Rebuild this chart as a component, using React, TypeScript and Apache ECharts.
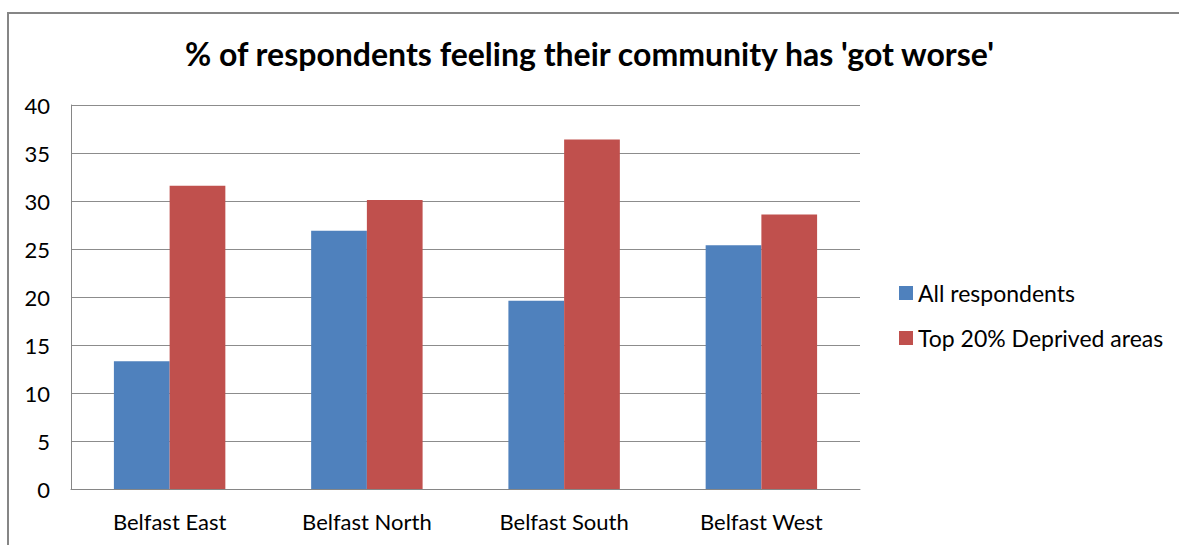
import React, { useEffect, useRef } from "react";
import * as echarts from "echarts";

const categories = ["Belfast East", "Belfast North", "Belfast South", "Belfast West"];
const allRespondents = [13.3, 26.9, 19.6, 25.4];
const deprivedAreas = [31.6, 30.1, 36.4, 28.6];
const seriesNames = ["All respondents", "Top 20% Deprived areas"];
const titleText = "% of respondents feeling their community has 'got worse'";

export default function App() {
  const ref = useRef<HTMLDivElement>(null);
  useEffect(() => {
    if (!ref.current) return;
    const chart = echarts.init(ref.current, null, { renderer: "svg" });
    const font = "Lato, 'Noto Sans', sans-serif";
    chart.setOption({
      animation: false,
      backgroundColor: "#ffffff",
      textStyle: { fontFamily: font },
      title: {
        text: titleText,
        left: "center",
        top: 32,
        textStyle: { fontFamily: font, fontSize: 32, fontWeight: "bold", color: "#000000" },
      },
      graphic: [
        {
          type: "rect",
          shape: { x: 8, y: 13, width: 1400, height: 800 },
          style: { fill: "none", stroke: "#868686", lineWidth: 2 },
          silent: true,
        },
      ],
      legend: {
        orient: "vertical",
        left: 899,
        top: 281,
        padding: 0,
        itemWidth: 14,
        itemHeight: 14,
        itemGap: 21,
        icon: "rect",
        textStyle: { fontFamily: font, fontSize: 23, color: "#000000", lineHeight: 24 },
        data: seriesNames,
      },
      grid: { left: 71, right: 319, top: 105, bottom: 56, containLabel: false },
      xAxis: {
        type: "category",
        data: categories,
        axisLine: { show: true, lineStyle: { color: "#868686", width: 1 } },
        axisTick: { show: false },
        axisLabel: { fontFamily: font, fontSize: 22, color: "#000000", margin: 21 },
      },
      yAxis: {
        type: "value",
        min: 0,
        max: 40,
        interval: 5,
        axisLine: { show: true, lineStyle: { color: "#868686", width: 1 } },
        axisTick: { show: false },
        splitLine: { show: true, lineStyle: { color: "#8c8c8c", width: 1 } },
        axisLabel: { fontFamily: font, fontSize: 22, color: "#000000", margin: 21 },
      },
      series: [
        {
          name: seriesNames[0],
          type: "bar",
          data: allRespondents,
          barGap: "0%",
          barCategoryGap: "43.5%",
          itemStyle: { color: "#4F81BD" },
        },
        {
          name: seriesNames[1],
          type: "bar",
          data: deprivedAreas,
          barGap: "0%",
          barCategoryGap: "43.5%",
          itemStyle: { color: "#C0504D" },
        },
      ],
    });
    return () => chart.dispose();
  }, []);
  return (
    <div
      ref={ref}
      style={{ position: "fixed", left: 0, top: 0, width: 1179, height: 545 }}
    />
  );
}
